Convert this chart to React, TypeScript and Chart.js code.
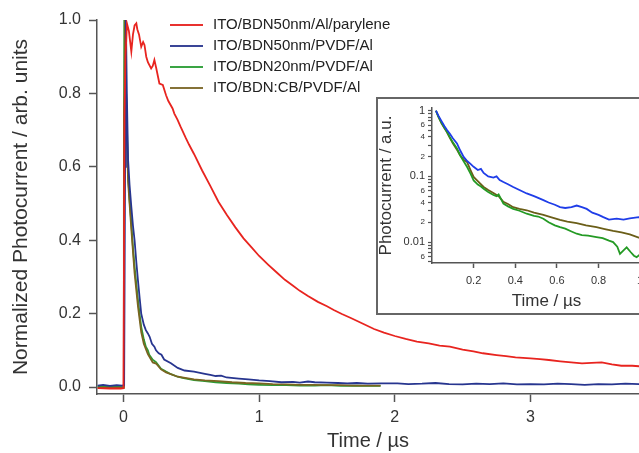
import React, { useEffect, useRef } from "react";
import { Chart, registerables } from "chart.js";

Chart.register(...registerables);

// ---------- main plot data (time in µs, normalized photocurrent) ----------
const redT = [-0.19, -0.1, -0.02, 0.0, 0.008, 0.015, 0.026, 0.04, 0.058, 0.07, 0.082, 0.095, 0.102, 0.115, 0.131, 0.145, 0.155, 0.168, 0.18, 0.204, 0.216, 0.228, 0.241, 0.265, 0.29, 0.314, 0.33, 0.362, 0.375, 0.399, 0.42, 0.46, 0.484, 0.52, 0.58, 0.64, 0.7, 0.76, 0.825, 0.885, 0.946, 1.0, 1.068, 1.13, 1.19, 1.25, 1.3, 1.36, 1.433, 1.5, 1.55, 1.61, 1.676, 1.75, 1.847, 1.92, 2.0, 2.08, 2.163, 2.25, 2.33, 2.406, 2.5, 2.58, 2.65, 2.75, 2.82, 2.89, 3.0, 3.07, 3.136, 3.22, 3.3, 3.38, 3.45, 3.525, 3.6, 3.67, 3.75, 3.82];
const redV = [-0.003, -0.004, -0.004, -0.003, 0.74, 0.9, 0.99, 0.97, 0.914, 0.96, 0.985, 0.991, 0.975, 0.96, 0.927, 0.94, 0.932, 0.9, 0.885, 0.868, 0.875, 0.891, 0.87, 0.827, 0.823, 0.795, 0.78, 0.759, 0.745, 0.728, 0.71, 0.678, 0.66, 0.635, 0.59, 0.548, 0.505, 0.47, 0.435, 0.405, 0.38, 0.357, 0.333, 0.312, 0.292, 0.276, 0.262, 0.248, 0.232, 0.22, 0.21, 0.199, 0.188, 0.175, 0.158, 0.148, 0.139, 0.131, 0.124, 0.119, 0.113, 0.11, 0.102, 0.097, 0.092, 0.087, 0.084, 0.081, 0.078, 0.076, 0.0736, 0.07, 0.067, 0.0645, 0.066, 0.067, 0.062, 0.058, 0.058, 0.056];

const blueT = [-0.19, -0.15, -0.1, -0.05, -0.01, 0.005, 0.012, 0.018, 0.025, 0.034, 0.045, 0.058, 0.07, 0.082, 0.095, 0.107, 0.12, 0.131, 0.15, 0.165, 0.18, 0.193, 0.21, 0.228, 0.24, 0.26, 0.28, 0.3, 0.35, 0.4, 0.45, 0.52, 0.6, 0.64, 0.68, 0.72, 0.76, 0.85, 0.92, 1.0, 1.08, 1.165, 1.25, 1.3, 1.36, 1.41, 1.5, 1.58, 1.65, 1.72, 1.8, 1.9, 2.02, 2.1, 2.2, 2.3, 2.4, 2.5, 2.6, 2.7, 2.8, 2.9, 3.0, 3.1, 3.2, 3.3, 3.4, 3.5, 3.6, 3.7, 3.82];
const blueV = [0.004, 0.006, 0.003, 0.005, 0.004, 0.005, 0.6, 1.0, 0.8, 0.62, 0.55, 0.491, 0.44, 0.4, 0.34, 0.29, 0.24, 0.2, 0.17, 0.155, 0.146, 0.137, 0.118, 0.11, 0.1, 0.092, 0.088, 0.075, 0.065, 0.052, 0.045, 0.042, 0.036, 0.033, 0.03, 0.031, 0.026, 0.023, 0.021, 0.018, 0.016, 0.013, 0.014, 0.012, 0.015, 0.013, 0.012, 0.011, 0.01, 0.011, 0.009, 0.01, 0.01, 0.008, 0.009, 0.011, 0.008, 0.007, 0.009, 0.008, 0.01, 0.007, 0.008, 0.007, 0.009, 0.008, 0.006, 0.008, 0.007, 0.009, 0.008];

const greenT = [-0.19, -0.1, -0.05, -0.005, 0.0, 0.003, 0.006, 0.012, 0.02, 0.034, 0.045, 0.058, 0.07, 0.082, 0.095, 0.107, 0.12, 0.131, 0.15, 0.165, 0.18, 0.19, 0.216, 0.24, 0.277, 0.314, 0.35, 0.4, 0.435, 0.52, 0.6, 0.68, 0.76, 0.85, 0.92, 1.0, 1.1, 1.2, 1.3, 1.41, 1.5, 1.6, 1.7, 1.8, 1.895];
const greenV = [0.002, 0.003, 0.002, 0.003, 0.003, 0.5, 1.0, 0.98, 0.8, 0.58, 0.51, 0.447, 0.38, 0.328, 0.28, 0.237, 0.195, 0.164, 0.13, 0.11, 0.1, 0.088, 0.074, 0.068, 0.05, 0.042, 0.035, 0.028, 0.025, 0.019, 0.016, 0.013, 0.011, 0.009, 0.007, 0.006, 0.005, 0.005, 0.004, 0.004, 0.005, 0.003, 0.004, 0.003, 0.003];

const brownT = [-0.19, -0.1, 0.0, 0.004, 0.008, 0.012, 0.02, 0.034, 0.058, 0.082, 0.107, 0.131, 0.15, 0.18, 0.216, 0.24, 0.277, 0.314, 0.4, 0.52, 0.6, 0.7, 0.8, 0.9, 1.0, 1.1, 1.2, 1.3, 1.4, 1.5, 1.6, 1.7, 1.8, 1.895];
const brownV = [-0.002, -0.002, -0.002, 0.74, 0.81, 1.0, 0.78, 0.56, 0.43, 0.31, 0.22, 0.15, 0.118, 0.09, 0.067, 0.064, 0.048, 0.04, 0.028, 0.021, 0.018, 0.016, 0.013, 0.011, 0.01, 0.008, 0.007, 0.006, 0.006, 0.005, 0.005, 0.004, 0.004, 0.004];

// ---------- inset data (log scale) ----------
const inBlueT = [0.019, 0.03, 0.045, 0.06, 0.072, 0.085, 0.1, 0.12, 0.135, 0.152, 0.17, 0.185, 0.2, 0.22, 0.235, 0.248, 0.27, 0.295, 0.31, 0.325, 0.343, 0.365, 0.39, 0.42, 0.455, 0.49, 0.51, 0.535, 0.56, 0.59, 0.615, 0.64, 0.67, 0.695, 0.72, 0.743, 0.77, 0.8, 0.823, 0.85, 0.887, 0.92, 0.95, 0.993, 1.03, 1.08, 1.12];
const inBlueV = [1.0, 0.85, 0.7, 0.58, 0.507, 0.45, 0.38, 0.318, 0.25, 0.198, 0.17, 0.155, 0.14, 0.125, 0.13, 0.113, 0.1, 0.096, 0.1, 0.088, 0.082, 0.076, 0.069, 0.062, 0.055, 0.05, 0.047, 0.0435, 0.04, 0.037, 0.034, 0.033, 0.034, 0.036, 0.034, 0.032, 0.028, 0.026, 0.024, 0.022, 0.0227, 0.022, 0.023, 0.024, 0.022, 0.023, 0.022];

const inGreenT = [0.019, 0.03, 0.045, 0.06, 0.072, 0.085, 0.1, 0.12, 0.135, 0.152, 0.168, 0.185, 0.2, 0.22, 0.235, 0.248, 0.27, 0.295, 0.31, 0.32, 0.343, 0.365, 0.39, 0.42, 0.455, 0.49, 0.51, 0.535, 0.56, 0.59, 0.615, 0.64, 0.67, 0.695, 0.72, 0.75, 0.79, 0.82, 0.85, 0.87, 0.89, 0.903, 0.92, 0.935, 0.955, 0.97, 0.983, 1.0, 1.04, 1.08, 1.12];
const inGreenV = [1.0, 0.82, 0.66, 0.55, 0.478, 0.4, 0.33, 0.267, 0.21, 0.17, 0.14, 0.11, 0.087, 0.075, 0.07, 0.065, 0.058, 0.052, 0.05, 0.053, 0.0385, 0.035, 0.032, 0.03, 0.027, 0.025, 0.0245, 0.0227, 0.02, 0.018, 0.0169, 0.016, 0.0145, 0.0134, 0.0128, 0.0125, 0.0119, 0.0115, 0.0105, 0.01, 0.0085, 0.0066, 0.0075, 0.0083, 0.007, 0.0062, 0.0059, 0.0065, 0.0058, 0.006, 0.0055];

const inBrownT = [0.019, 0.03, 0.045, 0.06, 0.072, 0.085, 0.1, 0.12, 0.135, 0.152, 0.168, 0.185, 0.2, 0.22, 0.248, 0.27, 0.295, 0.32, 0.343, 0.365, 0.39, 0.42, 0.455, 0.49, 0.535, 0.57, 0.615, 0.65, 0.695, 0.74, 0.79, 0.83, 0.87, 0.91, 0.95, 0.993, 1.04, 1.08, 1.12];
const inBrownV = [1.0, 0.82, 0.65, 0.54, 0.47, 0.39, 0.32, 0.255, 0.21, 0.18, 0.166, 0.125, 0.098, 0.085, 0.069, 0.062, 0.056, 0.05, 0.041, 0.038, 0.034, 0.032, 0.0305, 0.028, 0.026, 0.024, 0.0218, 0.0205, 0.0195, 0.018, 0.0169, 0.0158, 0.0148, 0.014, 0.0131, 0.0117, 0.011, 0.0105, 0.01];

// ---------- labels / ticks ----------
const seriesNames = ["ITO/BDN50nm/Al/parylene", "ITO/BDN50nm/PVDF/Al", "ITO/BDN20nm/PVDF/Al", "ITO/BDN:CB/PVDF/Al"];
const legendColors = ["#e8312f", "#3a4597", "#3aa444", "#857238"];
const mainXTicks = [0, 1, 2, 3];
const mainYTicks = [0, 0.2, 0.4, 0.6, 0.8, 1.0];
const insetXTicks = [0.2, 0.4, 0.6, 0.8, 1.0];
const insetYTicks = [1, 0.9, 0.8, 0.7, 0.6, 0.5, 0.4, 0.3, 0.2, 0.1, 0.09, 0.08, 0.07, 0.06, 0.05, 0.04, 0.03, 0.02, 0.01, 0.009, 0.008, 0.007, 0.006, 0.005];
const insetYLabels: Record<string, string> = { "1": "1", "0.6": "6", "0.4": "4", "0.2": "2", "0.1": "0.1", "0.06": "6", "0.04": "4", "0.02": "2", "0.01": "0.01", "0.006": "6" };

const FONT = '"Liberation Sans", Arial, sans-serif';
const toXY = (t: number[], v: number[]) => t.map((x, i) => ({ x, y: v[i] }));

const legendPlugin = {
  id: "customLegend",
  afterDatasetsDraw(chart: any) {
    const ctx = chart.ctx;
    ctx.save();
    ctx.font = `15px ${FONT}`;
    ctx.textBaseline = "middle";
    ctx.textAlign = "left";
    seriesNames.forEach((name, i) => {
      const y = 25 + i * 21;
      ctx.strokeStyle = legendColors[i];
      ctx.lineWidth = 2;
      ctx.beginPath();
      ctx.moveTo(170, y);
      ctx.lineTo(203, y);
      ctx.stroke();
      ctx.fillStyle = "#222";
      ctx.fillText(name, 213, y);
    });
    ctx.restore();
  },
};

export default function App() {
  const mainRef = useRef<HTMLCanvasElement>(null);
  const insetRef = useRef<HTMLCanvasElement>(null);

  useEffect(() => {
    const axisColor = "#555";
    const mainChart = new Chart(mainRef.current!, {
      type: "line",
      data: {
        datasets: [
          { label: seriesNames[0], data: toXY(redT, redV), borderColor: "#e8241f", borderWidth: 1.8 },
          { label: seriesNames[1], data: toXY(blueT, blueV), borderColor: "#27358f", borderWidth: 1.8 },
          { label: seriesNames[3], data: toXY(brownT, brownV), borderColor: "#7a6420", borderWidth: 1.8 },
          { label: seriesNames[2], data: toXY(greenT, greenV), borderColor: "#2e9a34", borderWidth: 1.8 },
        ],
      },
      options: {
        animation: false,
        responsive: false,
        devicePixelRatio: 1,
        elements: { point: { radius: 0 }, line: { tension: 0 } },
        layout: { padding: { left: 0, top: 20, right: 0, bottom: 0 } },
        plugins: { legend: { display: false }, tooltip: { enabled: false } },
        scales: {
          x: {
            type: "linear",
            min: -0.195,
            max: 3.8,
            afterBuildTicks: (s: any) => { s.ticks = mainXTicks.map((value) => ({ value })); },
            afterFit: (s: any) => { s.height = 59; },
            grid: { drawOnChartArea: false, drawTicks: true, tickLength: 8, color: axisColor, tickWidth: 1.5 },
            border: { display: true, color: axisColor, width: 1.5 },
            ticks: { color: "#333", font: { size: 16, family: FONT }, padding: 6, maxRotation: 0, autoSkip: false, callback: (v: any) => String(v) },
            title: { display: true, text: "Time / µs", color: "#333", font: { size: 20, family: FONT }, padding: { top: 0, bottom: 0 } },
          },
          y: {
            type: "linear",
            min: -0.019,
            max: 1.0,
            afterBuildTicks: (s: any) => { s.ticks = mainYTicks.map((value) => ({ value })); },
            afterFit: (s: any) => { s.width = 97; },
            grid: { drawOnChartArea: false, drawTicks: true, tickLength: 8, color: axisColor, tickWidth: 1.5 },
            border: { display: true, color: axisColor, width: 1.5 },
            ticks: { color: "#333", font: { size: 16, family: FONT }, padding: 8, autoSkip: false, callback: (v: any) => Number(v).toFixed(1) },
            title: { display: true, text: "Normalized Photocurrent / arb. units", color: "#333", font: { size: 21, family: FONT }, padding: { top: 9, bottom: 0 } },
          },
        },
      },
      plugins: [legendPlugin],
    } as any);

    const insetChart = new Chart(insetRef.current!, {
      type: "line",
      data: {
        datasets: [
          { label: seriesNames[1], data: toXY(inBlueT, inBlueV), borderColor: "#1f3de8", borderWidth: 1.8 },
          { label: seriesNames[2], data: toXY(inGreenT, inGreenV), borderColor: "#249a24", borderWidth: 1.8 },
          { label: seriesNames[3], data: toXY(inBrownT, inBrownV), borderColor: "#6b5e18", borderWidth: 1.8 },
        ],
      },
      options: {
        animation: false,
        responsive: false,
        devicePixelRatio: 1,
        elements: { point: { radius: 0 }, line: { tension: 0 } },
        layout: { padding: { left: 0, top: 9, right: 33, bottom: 0 } },
        plugins: { legend: { display: false }, tooltip: { enabled: false } },
        scales: {
          x: {
            type: "linear",
            min: 0,
            max: 1.1,
            afterBuildTicks: (s: any) => { s.ticks = insetXTicks.map((value) => ({ value })); },
            afterFit: (s: any) => { s.height = 50; },
            grid: { drawOnChartArea: false, drawTicks: true, tickLength: 5, color: axisColor, tickWidth: 1.5 },
            border: { display: true, color: axisColor, width: 1.5 },
            ticks: { color: "#333", font: { size: 11, family: FONT }, padding: 6, maxRotation: 0, autoSkip: false, callback: (v: any) => (Number(v) === 1 ? "1" : Number(v).toFixed(1)) },
            title: { display: true, text: "Time / µs", color: "#333", font: { size: 17, family: FONT }, padding: { top: 0, bottom: 1 } },
          },
          y: {
            type: "logarithmic",
            min: 0.0048,
            max: 1.1,
            afterBuildTicks: (s: any) => { s.ticks = insetYTicks.map((value) => ({ value })); },
            afterFit: (s: any) => { s.width = 54; },
            grid: { drawOnChartArea: false, drawTicks: true, tickLength: 4, color: axisColor, tickWidth: 1.2 },
            border: { display: true, color: axisColor, width: 1.5 },
            ticks: {
              color: "#333",
              padding: 3,
              autoSkip: false,
              font: (c: any) => {
                const v = c.tick ? c.tick.value : 1;
                const major = Math.abs(Math.log10(v) - Math.round(Math.log10(v))) < 1e-6;
                return { size: major ? 11 : 8, family: FONT };
              },
              callback: (v: any) => {
                const key = String(Number(Number(v).toPrecision(3)));
                return insetYLabels[key] ?? "";
              },
            },
            title: { display: true, text: "Photocurrent / a.u.", color: "#333", font: { size: 17, family: FONT, lineHeight: 1 }, padding: { top: 0, bottom: 0 } },
          },
        },
      },
    } as any);

    return () => {
      mainChart.destroy();
      insetChart.destroy();
    };
  }, []);

  return (
    <div style={{ position: "fixed", left: 0, top: 0, width: 639, height: 453, overflow: "hidden", background: "#fff" }}>
      <canvas ref={mainRef} width={639} height={453} style={{ position: "absolute", left: 0, top: 0 }} />
      <div
        style={{
          position: "absolute",
          left: 376,
          top: 97,
          width: 320,
          height: 218,
          border: "2px solid #666",
          boxSizing: "border-box",
          background: "#fff",
        }}
      >
        <canvas ref={insetRef} width={316} height={214} style={{ position: "absolute", left: 0, top: 0 }} />
      </div>
    </div>
  );
}
